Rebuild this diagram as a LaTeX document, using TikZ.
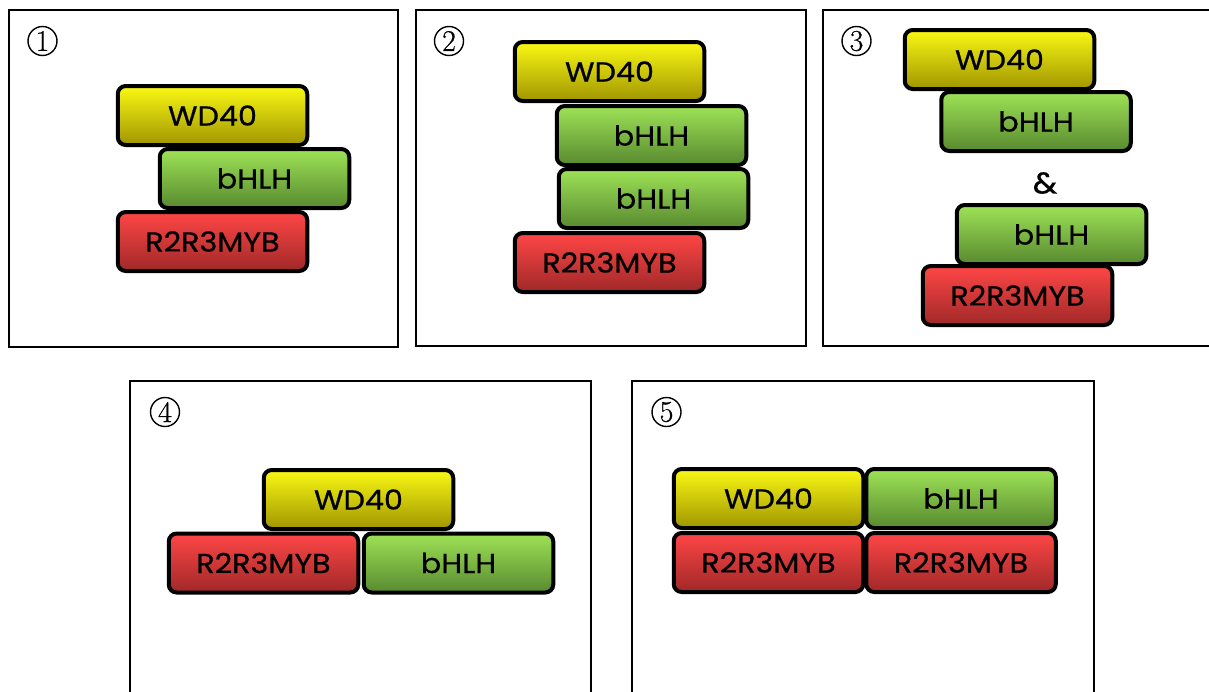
\documentclass[tikz,border=0pt]{standalone}
\usepackage{fontspec}
\newfontfamily\labelfont[FakeStretch=1.1,FakeBold=0.7]{Poppins}
\newfontfamily\numfont[FakeBold=0.6]{Latin Modern Roman}
\begin{document}
\begin{tikzpicture}[x=1pt,y=-1pt,
  panel/.style={draw=black,line width=2.4pt},
  num/.style={circle,draw=black,line width=1.4pt,inner sep=0pt,minimum size=29pt,font=\numfont\fontsize{30}{30}\selectfont},
  protbox/.style={rounded corners=8pt,draw=black,line width=4pt,minimum width=189.5pt,minimum height=59pt,inner sep=0pt,
    font=\labelfont\fontsize{27.5}{27.5}\selectfont,text=black},
  wd/.style={protbox,top color={rgb,255:red,250;green,248;blue,20},bottom color={rgb,255:red,160;green,150;blue,0}},
  bh/.style={protbox,top color={rgb,255:red,158;green,226;blue,86},bottom color={rgb,255:red,88;green,138;blue,48}},
  my/.style={protbox,top color={rgb,255:red,255;green,70;blue,70},bottom color={rgb,255:red,160;green,40;blue,40}},
  amp/.style={font=\labelfont\fontsize{30}{30}\selectfont}]
\useasboundingbox (0,0) rectangle (1209,691);
\clip (0,0) rectangle (1209,691);
\fill[white] (0,0) rectangle (1209,691);

% frames
\draw[panel] (9,10) rectangle (398,347);
\draw[panel] (416,10) rectangle (806,346);
\draw[panel] (823,10) rectangle (1230,346);
\draw[panel] (130,381) rectangle (591,720);
\draw[panel] (632,381) rectangle (1094,720);

% panel numbers
\node[num] (n1) at (42.5,41) {1};
\node[num] (n2) at (449,41) {2};
\node[num] (n3) at (856.5,41) {3};
\node[num] (n4) at (165,412) {4};
\node[num] (n5) at (666.5,412) {5};

% panel 1
\node[wd] (a1) at (212.5,115.5) {WD40};
\node[bh] (a2) at (254.5,178.5) {bHLH};
\node[my] (a3) at (212.5,241.5) {R2R3MYB};

% panel 2
\node[wd] (b1) at (609.5,71.5) {WD40};
\node[bh] (b2) at (651.5,135.5) {bHLH};
\node[bh] (b3) at (653.5,198.5) {bHLH};
\node[my] (b4) at (609.5,262.5) {R2R3MYB};

% panel 3
\node[wd] (c1) at (999.5,59.5) {WD40};
\node[bh] (c2) at (1036,121.5) {bHLH};
\node[amp] (c3) at (1045,183) {\&};
\node[bh] (c4) at (1051.5,234.5) {bHLH};
\node[my] (c5) at (1017.5,295.5) {R2R3MYB};

% panel 4
\node[wd] (d1) at (358.5,499.5) {WD40};
\node[my] (d2) at (263.5,563) {R2R3MYB};
\node[bh] (d3) at (458.5,563) {bHLH};

% panel 5
\node[wd] (e1) at (768.5,498.5) {WD40};
\node[bh] (e2) at (961,498.5) {bHLH};
\node[my] (e3) at (768.5,562.5) {R2R3MYB};
\node[my] (e4) at (961,562.5) {R2R3MYB};
\end{tikzpicture}
\end{document}
